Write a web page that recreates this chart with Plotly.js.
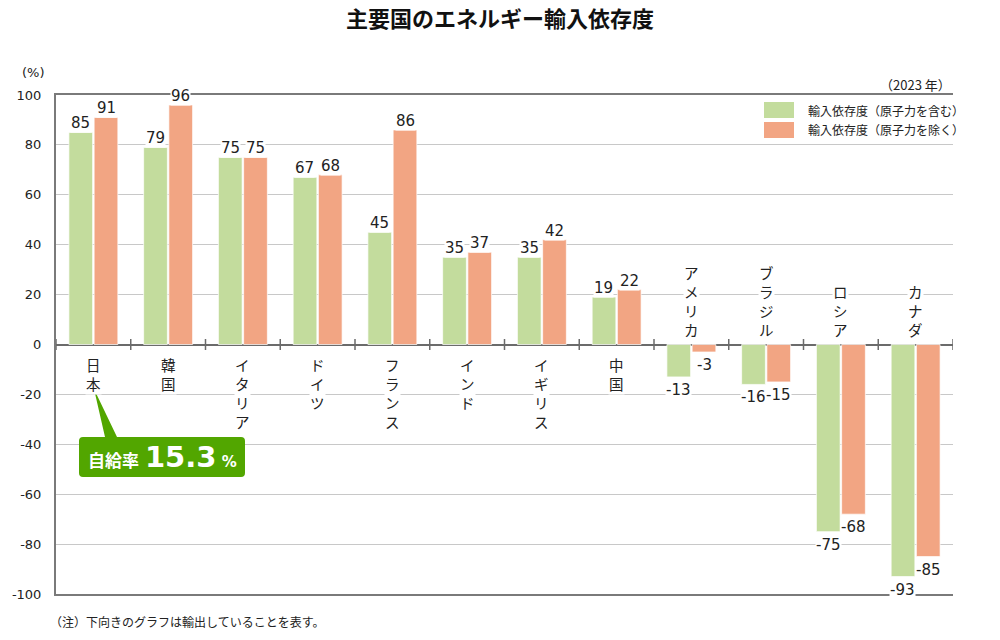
<!DOCTYPE html>
<html><head><meta charset="utf-8">
<script src="https://cdn.plot.ly/plotly-3.0.1.min.js"></script>
<style>body{margin:0;background:#fff}#c{width:1000px;height:640px}</style>
</head><body><div id="c"></div>
<script>
var categories = ["日本","韓国","イタリア","ドイツ","フランス","インド","イギリス","中国","アメリカ","ブラジル","ロシア","カナダ"];
var inclNuclear = [85,79,75,67,45,35,35,19,-13,-16,-75,-93];
var exclNuclear = [91,96,75,68,86,37,42,22,-3,-15,-68,-85];
var seriesNames = ["輸入依存度（原子力を含む）","輸入依存度（原子力を除く）"];
var yTicks = [-100,-80,-60,-40,-20,0,20,40,60,80,100];

var FONT = "DejaVu Sans, Noto Sans CJK JP, sans-serif";
var JFONT = "Noto Sans CJK JP, DejaVu Sans, sans-serif";
var GREEN = "#c3dc9d", ORANGE = "#f2a583";
var L = 56, R = 953, T = 95, B = 594;
function px(x){return (x - L)/(R - L);}
function py(y){return (B - y)/(B - T);}

var traces = [
  {type:"bar", x:categories, y:inclNuclear, name:seriesNames[0], marker:{color:GREEN, line:{color:"rgba(255,255,255,0.7)", width:1}}, hoverinfo:"x+y"},
  {type:"bar", x:categories, y:exclNuclear, name:seriesNames[1], marker:{color:ORANGE, line:{color:"rgba(255,255,255,0.7)", width:1}}, hoverinfo:"x+y"}
];

var annotations = [];
var shapes = [];
var off = 0.169;
function valueLabel(i, v, dx){
  annotations.push({x:i+dx, y:v, xref:"x", yref:"y", text:String(v), showarrow:false,
    yanchor: v>=0 ? "bottom" : "top", yshift: v>=0 ? -1 : -3,
    font:{family:FONT, size:15, color:"#222"}, bgcolor:"#fff", borderpad:0});
}
categories.forEach(function(c, i){
  valueLabel(i, inclNuclear[i], -off);
  valueLabel(i, exclNuclear[i], off);
  var neg = inclNuclear[i] < 0;
  annotations.push({x:i, y:0, xref:"x", yref:"y", text:c.split("").join("<br>"), showarrow:false,
    yanchor: neg ? "bottom" : "top", yshift: neg ? 4 : -8,
    font:{family:JFONT, size:14.5, color:"#222"}, bgcolor:"#fff", borderpad:0});
});
for (var k = 0; k <= categories.length; k++){
  shapes.push({type:"line", xref:"x", yref:"y", x0:k-0.5, x1:k-0.5, y0:-2.2, y1:2.2, line:{color:"#6b6b6b", width:1.5}});
}
// legend swatches
shapes.push({type:"rect", xref:"paper", yref:"paper", x0:px(764), x1:px(794), y0:py(118), y1:py(102), fillcolor:GREEN, line:{width:0}});
shapes.push({type:"rect", xref:"paper", yref:"paper", x0:px(764), x1:px(794), y0:py(138), y1:py(122), fillcolor:ORANGE, line:{width:0}});
annotations.push({xref:"paper", yref:"paper", x:px(806), y:py(110), xanchor:"left", yanchor:"middle", text:seriesNames[0], showarrow:false, font:{family:JFONT, size:12, color:"#222"}});
annotations.push({xref:"paper", yref:"paper", x:px(806), y:py(130), xanchor:"left", yanchor:"middle", text:seriesNames[1], showarrow:false, font:{family:JFONT, size:12, color:"#222"}});

// self-sufficiency callout
var bx0=px(79), bx1=px(245), by0=py(477), by1=py(437), rx=4/(R-L), ry=4/(B-T);
var boxPath = "M "+(bx0+rx)+","+by1+" L "+px(105)+","+by1+" L "+px(94)+","+py(389)+" L "+px(117)+","+by1+
  " L "+(bx1-rx)+","+by1+" Q "+bx1+","+by1+" "+bx1+","+(by1-ry)+
  " L "+bx1+","+(by0+ry)+" Q "+bx1+","+by0+" "+(bx1-rx)+","+by0+
  " L "+(bx0+rx)+","+by0+" Q "+bx0+","+by0+" "+bx0+","+(by0+ry)+
  " L "+bx0+","+(by1-ry)+" Q "+bx0+","+by1+" "+(bx0+rx)+","+by1+" Z";
shapes.push({type:"path", xref:"paper", yref:"paper", path:boxPath, fillcolor:"#52a600", line:{width:0}});
annotations.push({xref:"paper", yref:"paper", x:px(162), y:py(457), xanchor:"center", yanchor:"middle", showarrow:false,
  text:"<b>自給率 <span style=\"font-size:29px\">15.3</span><span style=\"font-size:15px\"> %</span></b>",
  font:{family:"DejaVu Sans, Noto Sans CJK JP, sans-serif", size:17, color:"#fff"}});

// misc texts
annotations.push({xref:"paper", yref:"paper", x:px(20), y:py(73), xanchor:"left", yanchor:"middle", text:"(%)", showarrow:false, font:{family:FONT, size:13, color:"#222"}});
annotations.push({xref:"paper", yref:"paper", x:1, y:py(85), xanchor:"right", yanchor:"middle", text:"（2023 年）", showarrow:false, font:{family:JFONT, size:13, color:"#222"}});
annotations.push({xref:"paper", yref:"paper", x:px(48), y:py(621), xanchor:"left", yanchor:"middle", text:"（注）下向きのグラフは輸出していることを表す。", showarrow:false, font:{family:JFONT, size:12, color:"#222"}});

var layout = {
  width:1000, height:640,
  margin:{l:L, r:1000-R, t:T, b:640-B, pad:0},
  paper_bgcolor:"#fff", plot_bgcolor:"#fff",
  title:{text:"<b>主要国のエネルギー輸入依存度</b>", x:0.5, xanchor:"center", y:1-19/640, yanchor:"middle", font:{family:JFONT, size:22, color:"#111"}},
  showlegend:false,
  barmode:"group", bargap:0.325, bargroupgap:0.06,
  xaxis:{type:"category", showticklabels:false, ticks:"", showgrid:false, showline:true, linecolor:"#7a7a7a", linewidth:2, mirror:true, range:[-0.5, categories.length-0.5], fixedrange:true},
  yaxis:{range:[-100,100], tickvals:yTicks, ticktext:yTicks.map(String), showgrid:true, gridcolor:"#c8c8c8", gridwidth:1,
    zeroline:true, zerolinecolor:"#6b6b6b", zerolinewidth:2, showline:true, linecolor:"#7a7a7a", linewidth:2,
    ticks:"", ticklabelstandoff:10, tickfont:{family:FONT, size:13, color:"#222"}, fixedrange:true},
  annotations:annotations, shapes:shapes
};
Plotly.newPlot("c", traces, layout, {displayModeBar:false, staticPlot:true});
</script></body></html>
